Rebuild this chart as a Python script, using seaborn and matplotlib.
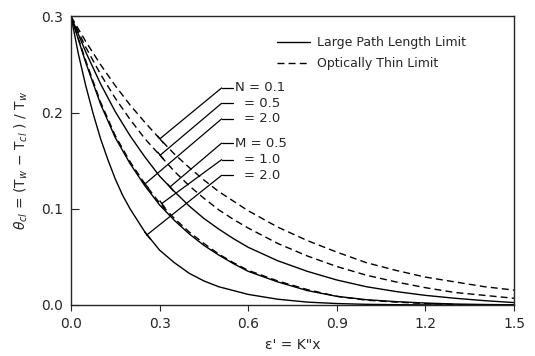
import numpy as np
import pandas as pd
import matplotlib
matplotlib.use("Agg")
import matplotlib.pyplot as plt
import seaborn as sns
from matplotlib.lines import Line2D

sns.set_style("ticks")
plt.rcParams["font.family"] = ["DejaVu Sans"]

# ---- data ----
x_main = [0.0, 0.05, 0.1, 0.15, 0.2, 0.25, 0.3, 0.35, 0.4, 0.45, 0.5, 0.55, 0.6,
          0.7, 0.8, 0.9, 1.0, 1.1, 1.2, 1.3, 1.4, 1.5]

# Large path length limit (solid)
m05 = [0.300, 0.263, 0.230, 0.201, 0.176, 0.154, 0.134, 0.118, 0.103, 0.090,
       0.079, 0.069, 0.060, 0.046, 0.035, 0.026, 0.019, 0.014, 0.010, 0.007,
       0.0045, 0.0025]
m10 = [0.300, 0.252, 0.209, 0.174, 0.147, 0.124, 0.104, 0.088, 0.074, 0.062,
       0.052, 0.043, 0.035, 0.024, 0.015, 0.009, 0.0055, 0.0035, 0.002, 0.001,
       0.0005, 0.0002]
m20_x = [0.0, 0.025, 0.05, 0.075, 0.1, 0.125, 0.15, 0.175, 0.2, 0.25, 0.3, 0.35,
         0.4, 0.45, 0.5, 0.6, 0.7, 0.8, 0.9, 1.0, 1.1, 1.2, 1.3, 1.5]
m20 = [0.300, 0.261, 0.228, 0.199, 0.173, 0.151, 0.131, 0.114, 0.100, 0.076,
       0.057, 0.044, 0.033, 0.025, 0.019, 0.011, 0.006, 0.003, 0.0015, 0.0007,
       0.0003, 0.0001, 0.0, 0.0]

# Optically thin limit (dashed)
n01 = [0.300, 0.274, 0.250, 0.228, 0.208, 0.190, 0.173, 0.157, 0.143, 0.130,
       0.118, 0.108, 0.098, 0.081, 0.067, 0.055, 0.044, 0.036, 0.029, 0.024,
       0.019, 0.0155]
n05 = [0.300, 0.268, 0.240, 0.215, 0.193, 0.173, 0.156, 0.139, 0.124, 0.111,
       0.099, 0.089, 0.080, 0.064, 0.051, 0.040, 0.031, 0.024, 0.018, 0.013,
       0.010, 0.007]
n20_x = [0.0, 0.05, 0.1, 0.15, 0.2, 0.25, 0.3, 0.35, 0.4, 0.45, 0.5, 0.55, 0.6,
         0.7, 0.8, 0.9, 1.0, 1.1, 1.2, 1.3, 1.35]
n20 = [0.300, 0.254, 0.211, 0.176, 0.149, 0.126, 0.106, 0.090, 0.076, 0.064,
       0.053, 0.044, 0.036, 0.025, 0.016, 0.009, 0.005, 0.003, 0.0015, 0.0005,
       0.0]

labels_text = ["N = 0.1", "= 0.5", "= 2.0", "M = 0.5", "= 1.0", "= 2.0"]
label_y = [0.2257, 0.2097, 0.1935, 0.1683, 0.1511, 0.1348]
tip_x = [0.301, 0.301, 0.251, 0.335, 0.307, 0.256]
tip_y = [0.1728, 0.1555, 0.126, 0.1227, 0.1054, 0.0726]

x_ticks = [0.0, 0.3, 0.6, 0.9, 1.2, 1.5]
y_ticks = [0.0, 0.1, 0.2, 0.3]

# ---- figure ----
fig = plt.figure(figsize=(5.35, 3.56), dpi=100)
ax = fig.add_axes([0.1327, 0.1433, 0.828, 0.8104])

solid_sets = [(x_main, m05), (x_main, m10), (m20_x, m20)]
for xs, ys in solid_sets:
    d = pd.DataFrame({"x": xs, "y": ys})
    sns.lineplot(data=d, x="x", y="y", ax=ax, color="black", lw=1.0,
                 sort=False, estimator=None)

dashed_sets = [(x_main, n01), (x_main, n05), (n20_x, n20)]
for xs, ys in dashed_sets:
    d = pd.DataFrame({"x": xs, "y": ys})
    sns.lineplot(data=d, x="x", y="y", ax=ax, color="black", lw=1.0,
                 sort=False, estimator=None, linestyle=(0, (5, 3)))

ax.set_xlim(0, 1.5)
ax.set_ylim(0, 0.3)
ax.set_xticks(x_ticks)
ax.set_xticklabels([f"{v:.1f}" for v in x_ticks])
ax.set_yticks(y_ticks)
ax.set_yticklabels([f"{v:.1f}" for v in y_ticks])
ax.tick_params(axis="x", direction="out", length=4, labelsize=10, pad=5)
ax.tick_params(axis="y", direction="in", length=6, labelsize=10, pad=6)
for s in ax.spines.values():
    s.set_linewidth(1.0)

ax.set_xlabel("ε' = K\"x", fontsize=10, labelpad=5)
ax.set_ylabel(r"$\theta_{cl}$ = (T$_w$ $-$ T$_{cl}$ ) / T$_w$", fontsize=10, labelpad=8)

# legend
handles = [Line2D([0], [0], color="black", lw=1.0),
           Line2D([0], [0], color="black", lw=1.0, linestyle=(0, (5, 3)))]
ax.legend(handles, ["Large Path Length Limit", "Optically Thin Limit"],
          frameon=False, loc="upper left", bbox_to_anchor=(0.44, 0.97),
          handlelength=2.6, fontsize=9, labelspacing=0.6, handletextpad=0.6)

# leader lines with labels
fig.canvas.draw()
trans = ax.transData
x_left, x_right = 0.510, 0.550
for i, txt in enumerate(labels_text):
    yl = label_y[i]
    ax.plot([x_left, x_right], [yl, yl], color="black", lw=0.9)
    ax.plot([tip_x[i], x_left], [tip_y[i], yl], color="black", lw=0.9)
    p0 = trans.transform((tip_x[i], tip_y[i]))
    p1 = trans.transform((x_left, yl))
    ang = np.degrees(np.arctan2(p1[1] - p0[1], p1[0] - p0[0]))
    ax.plot([tip_x[i]], [tip_y[i]], marker=(2, 0, ang), color="black",
            markersize=7, mew=1.0)
    tx = 0.556 if txt.startswith(("N", "M")) else 0.586
    ax.text(tx, yl, txt, fontsize=9.5, va="center", ha="left")

fig.savefig("out.png", dpi=100)
